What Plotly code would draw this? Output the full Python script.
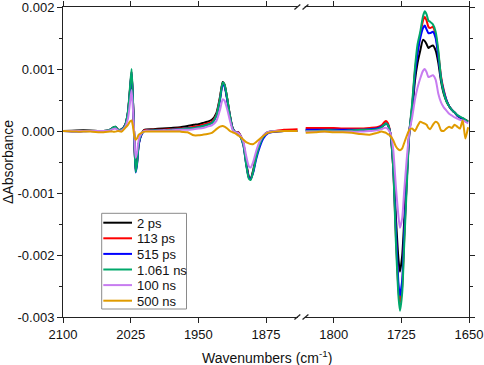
import plotly.graph_objects as go

# ---------------- data ----------------
labels = ["2 ps", "113 ps", "515 ps", "1.061 ns", "100 ns", "500 ns"]
colors = ["#000000", "#FF0000", "#0000FF", "#00A86B", "#C77CF0", "#E09B00"]

wn_left = [2100, 2085, 2070, 2055, 2048, 2045, 2042, 2039, 2035, 2031, 2028, 2026, 2024, 2022.5,
           2021, 2019.5, 2018, 2016, 2013, 2010, 2000, 1990, 1980, 1970, 1962, 1955, 1950, 1945,
           1940, 1935, 1930, 1926, 1923, 1921, 1918, 1915, 1912, 1909, 1906, 1903, 1900, 1897,
           1894, 1892, 1889, 1886, 1882, 1878, 1873, 1865, 1855, 1840]

wn_right = [1831, 1820, 1810, 1800, 1790, 1780, 1770, 1760, 1752, 1747, 1744, 1742, 1740, 1737,
            1734, 1731, 1728, 1726.5, 1724, 1722, 1719, 1716, 1713, 1710, 1707, 1704, 1701, 1699,
            1697, 1695, 1693, 1690, 1687, 1684, 1681, 1678, 1675, 1672, 1669, 1666, 1663, 1660,
            1657, 1654, 1651]

k_left = [0.0, 0.00001, 0.00001, 0.0, 0.00002, 0.00005, 0.00007, 0.00002, 0.00003, 0.0001, 0.0003,
          0.0006, 0.00092, 0.0005, -0.0001, -0.00062, -0.0005, -0.0002, -0.00005, 0.00002, 0.00003,
          0.00004, 0.00005, 0.00006, 0.00008, 0.0001, 0.00011, 0.00013, 0.00015, 0.00018, 0.00029,
          0.00055, 0.00079, 0.00075, 0.00052, 0.00025, 0.00005, -0.00002, -0.00002, -0.00008,
          -0.0002, -0.0005, -0.00074, -0.00077, -0.00062, -0.0004, -0.0002, -0.00008, -0.00002,
          -0.00001, 0.0, 0.0]
r_left = [0.0, 0.0, 0.0, 0.0, 0.00001, 0.00004, 0.00006, 0.00002, 0.00002, 0.0001, 0.0003,
          0.00063, 0.00096, 0.0005, -0.0001, -0.00064, -0.00052, -0.0002, -0.00005, 0.00001, 0.00002,
          0.00002, 0.00003, 0.00004, 0.00005, 0.00007, 0.00008, 0.0001, 0.00012, 0.00015, 0.00026,
          0.00053, 0.00077, 0.00074, 0.00052, 0.00025, 0.00004, -0.00002, -0.00002, -0.00009,
          -0.00022, -0.00052, -0.00075, -0.00078, -0.00064, -0.00042, -0.00022, -0.00009, -0.00002,
          0.0, 0.00002, 0.00003]
b_left = [0.0, -0.00001, 0.0, -0.00001, 0.00001, 0.00004, 0.00006, 0.00002, 0.00002, 0.0001, 0.0003,
          0.00062, 0.00095, 0.0005, -0.0001, -0.00067, -0.00055, -0.00022, -0.00006, 0.0, 0.00001,
          0.00001, 0.00002, 0.00003, 0.00004, 0.00005, 0.00006, 0.00008, 0.0001, 0.00013, 0.00024,
          0.0005, 0.00074, 0.00072, 0.0005, 0.00024, 0.00004, -0.00002, -0.00003, -0.0001,
          -0.00023, -0.00053, -0.00075, -0.00077, -0.00066, -0.00046, -0.00026, -0.00012, -0.00004,
          -0.00001, 0.0, 0.0]
g_left = [0.0, 0.0, 0.0, 0.0, 0.00002, 0.00005, 0.00007, 0.00002, 0.00002, 0.0001, 0.00032,
          0.00066, 0.001, 0.00052, -0.0001, -0.00066, -0.00053, -0.0002, -0.00005, 0.0, 0.00001,
          0.00001, 0.00002, 0.00003, 0.00004, 0.00005, 0.00006, 0.00008, 0.0001, 0.00013, 0.00025,
          0.00052, 0.00078, 0.00075, 0.00053, 0.00025, 0.00004, -0.00002, -0.00003, -0.0001,
          -0.00023, -0.00054, -0.00077, -0.00079, -0.00064, -0.00043, -0.00022, -0.00009, -0.00002,
          0.0, 0.0, 0.0]
v_left = [0.0, 0.0, 0.0, 0.0, 0.00001, 0.00003, 0.00004, 0.00001, 0.00001, 0.00007, 0.0002,
          0.00042, 0.00066, 0.00035, -0.00005, -0.00043, -0.00035, -0.00014, -0.00004, 0.0, 0.0,
          0.00001, 0.00001, 0.00002, 0.00002, 0.00003, 0.00004, 0.00005, 0.00007, 0.00009, 0.00016,
          0.00034, 0.00051, 0.00049, 0.00035, 0.00017, 0.00002, -0.00002, -0.00003, -0.00008,
          -0.00018, -0.0004, -0.00057, -0.00059, -0.00049, -0.00033, -0.00017, -0.00007, -0.00002,
          0.0, 0.0, 0.0]
o_left = [0.0, -0.00001, -0.00001, -0.00002, -0.00001, -0.00001, -0.00001, 0.0, -0.00001, 0.00005,
          0.0001, 0.00015, 0.00017, 0.00008, -0.00008, -0.00014, -0.00012, -0.00006, -0.00003,
          -0.00001, -0.00001, -0.00001, -0.00001, -0.00001, -0.00002, -0.00007, -0.00007, -0.00006,
          -0.00005, -0.00003, 0.00003, 0.00007, 0.00008, 0.00007, 0.00004, 0.0, -0.00002, -0.00004,
          -0.00007, -0.0001, -0.00014, -0.00018, -0.0002, -0.00021, -0.00021, -0.00018, -0.00013,
          -0.00008, -0.00003, -0.00001, 0.0, 0.0]

k_right = [0.00002, 0.00002, 0.00002, 0.00002, 0.00002, 0.00002, 0.00002, 0.00003, 0.00004, 0.00006,
           0.0001, 0.00012, 0.0001, -0.00005, -0.0005, -0.0014, -0.0021, -0.00227, -0.002, -0.0015,
           -0.0007, 0.0, 0.0003, 0.0008, 0.0011, 0.0013, 0.00147, 0.00145, 0.0014, 0.00134, 0.00136,
           0.00138, 0.0013, 0.0011, 0.0008, 0.0006, 0.00048, 0.0004, 0.00034, 0.0003, 0.00025,
           0.00022, 0.0002, 0.00018, 0.00016]
r_right = [0.00005, 0.00005, 0.00005, 0.00005, 0.00004, 0.00004, 0.00004, 0.00005, 0.00006, 0.00009,
           0.00014, 0.00016, 0.00013, -0.00005, -0.0006, -0.0017, -0.0026, -0.00277, -0.0025,
           -0.0018, -0.0008, 0.0, 0.0004, 0.00095, 0.0013, 0.00155, 0.00178, 0.00184, 0.00178,
           0.00168, 0.00166, 0.00168, 0.00155, 0.00125, 0.00088, 0.00066, 0.0005, 0.0004, 0.00034,
           0.0003, 0.00025, 0.00022, 0.0002, 0.00017, 0.00015]
b_right = [0.00002, 0.00002, 0.00002, 0.00002, 0.00002, 0.00002, 0.00002, 0.00003, 0.00004, 0.00007,
           0.0001, 0.00012, 0.0001, -0.00005, -0.00058, -0.0016, -0.0025, -0.00265, -0.0024,
           -0.0017, -0.0008, 0.0, 0.00038, 0.0009, 0.00125, 0.0015, 0.00166, 0.0017, 0.00164,
           0.00158, 0.00158, 0.0016, 0.0015, 0.0012, 0.00085, 0.00064, 0.0005, 0.0004, 0.00034,
           0.0003, 0.00025, 0.00022, 0.0002, 0.00016, 0.00014]
g_right = [0.0, 0.0, 0.00001, 0.00001, 0.0, 0.00001, 0.00002, 0.00002, 0.00003, 0.00006, 0.0001,
           0.00012, 0.0001, -0.00005, -0.0006, -0.0018, -0.0027, -0.0029, -0.0026, -0.0019, -0.0009,
           0.0, 0.00045, 0.001, 0.0014, 0.0016, 0.00185, 0.00193, 0.00188, 0.00178, 0.00176, 0.00172,
           0.0016, 0.0013, 0.00085, 0.00062, 0.00048, 0.0004, 0.00034, 0.0003, 0.00026, 0.00023,
           0.00021, 0.00018, 0.00015]
v_right = [-0.00001, -0.00001, -0.00001, -0.00001, -0.00001, -0.00001, -0.00001, 0.0, 0.00001,
           0.00003, 0.00005, 0.00005, 0.00003, -0.00004, -0.0003, -0.0009, -0.0014, -0.00156,
           -0.0014, -0.001, -0.00045, 0.0, 0.00022, 0.0005, 0.0007, 0.00085, 0.00097, 0.001,
           0.00095, 0.00087, 0.00088, 0.0009, 0.00083, 0.0006, 0.00046, 0.00038, 0.00033, 0.00028,
           0.00025, 0.00022, 0.0002, 0.00018, 0.00017, 0.00015, 0.00012]
o_right = [-0.00003, -0.00002, -0.00001, -0.00002, -0.00002, -0.00003, -0.00005, -0.00006, -0.00003,
           -0.00001, -0.00002, -0.00003, -0.00005, -0.00008, -0.00015, -0.00025, -0.0003, -0.00031,
           -0.00028, -0.0002, -0.00008, 0.00002, 0.00004, 0.0, 0.00008, 0.00015, 0.00013, 0.00012,
           0.0001, 0.00005, 0.00003, 0.0001, 0.00015, 0.00012, 0.00001, 0.0, 0.00004, 0.00007,
           0.00005, 0.0001, 0.00007, 0.00004, 0.00017, -0.00012, 0.00006]

series_left = [k_left, r_left, b_left, g_left, v_left, o_left]
series_right = [k_right, r_right, b_right, g_right, v_right, o_right]

y_ticks = [0.002, 0.001, 0.0, -0.001, -0.002, -0.003]
y_ticktext = ["0.002", "0.001", "0.000", "-0.001", "-0.002", "-0.003"]
x_ticks = [2100, 2025, 1950, 1875, 1800, 1725, 1650]
x_title = "Wavenumbers (cm<sup>-1</sup>)"
y_title = "\u0394Absorbance"

# ---------------- figure ----------------
W, H = 484, 365
ML, MR, MT, MB = 63, 15, 7, 48
PW, PH = W - ML - MR, H - MT - MB

fig = go.Figure()
for lab, col, yl, yr in zip(labels, colors, series_left, series_right):
    fig.add_trace(go.Scatter(
        x=wn_left + [None] + wn_right,
        y=yl + [None] + yr,
        mode="lines", name=lab, connectgaps=False, showlegend=False,
        line=dict(color=col, width=2, shape="spline", smoothing=0.6),
    ))

font_family = "Liberation Sans, Arial, sans-serif"
axis_color = "#222222"
text_color = "#111111"

fig.update_layout(
    width=W, height=H,
    margin=dict(l=ML, r=MR, t=MT, b=MB, autoexpand=False),
    paper_bgcolor="white", plot_bgcolor="white",
    font=dict(family=font_family, size=13, color=text_color),
    showlegend=False,
    xaxis=dict(
        range=[2100, 1650], tickvals=x_ticks, automargin=False, ticklabeloverflow="allow",
        showgrid=False, zeroline=False,
        showline=True, linecolor=axis_color, linewidth=1, mirror="ticks",
        ticks="outside", ticklen=5, tickcolor=axis_color, tickwidth=1,
        tickfont=dict(size=13),
    ),
    yaxis=dict(
        range=[-0.003, 0.002], tickvals=y_ticks, ticktext=y_ticktext, automargin=False,
        ticklabeloverflow="allow",
        showgrid=False, zeroline=False,
        showline=True, linecolor=axis_color, linewidth=1, mirror="ticks",
        ticks="outside", ticklen=5, tickcolor=axis_color, tickwidth=1,
        minor=dict(dtick=0.0005, ticks="outside", ticklen=3, tickcolor=axis_color, showgrid=False),
        tickfont=dict(size=13),
    ),
)

def px_x(p):
    return (p - ML) / PW

def px_y(p):
    return (MT + PH - p) / PH

def xp(wn):
    return (2100 - wn) / 450.0

annotations = [
    dict(text=x_title, xref="paper", yref="paper", x=px_x(267), y=px_y(357),
         xanchor="center", yanchor="middle", showarrow=False, font=dict(size=14)),
    dict(text=y_title, xref="paper", yref="paper", x=px_x(8), y=px_y(162),
         xanchor="center", yanchor="middle", showarrow=False, textangle=-90,
         font=dict(size=14)),
]

shapes = []
# axis-break marks on top and bottom axis lines
dy = 0.008
for yb in (0.0, 1.0):
    shapes.append(dict(type="rect", xref="paper", yref="paper",
                       x0=xp(1839.5), x1=xp(1832.0), y0=yb - 0.006, y1=yb + 0.006,
                       fillcolor="white", line=dict(width=0), layer="above"))
    for x0w, x1w in ((1843.5, 1837.0), (1834.5, 1828.0)):
        shapes.append(dict(type="line", xref="paper", yref="paper",
                           x0=xp(x0w), x1=xp(x1w), y0=yb - dy, y1=yb + dy,
                           line=dict(color=axis_color, width=1.2), layer="above"))

# legend box drawn by hand (tight row spacing like the reference)
box_l, box_r, box_t, box_b = 101.7, 186.5, 213.3, 309.0
shapes.append(dict(type="rect", xref="paper", yref="paper",
                   x0=px_x(box_l), x1=px_x(box_r), y0=px_y(box_b), y1=px_y(box_t),
                   fillcolor="white", line=dict(color="#8a8a8a", width=1), layer="above"))
row0, row_step = 222.7, 15.6
for i, (lab, col) in enumerate(zip(labels, colors)):
    yy = row0 + i * row_step
    shapes.append(dict(type="line", xref="paper", yref="paper",
                       x0=px_x(103.3), x1=px_x(132.0), y0=px_y(yy), y1=px_y(yy),
                       line=dict(color=col, width=2), layer="above"))
    annotations.append(dict(text=lab, xref="paper", yref="paper", x=px_x(134.5), y=px_y(yy + 0.5),
                            xanchor="left", yanchor="middle", showarrow=False,
                            font=dict(size=13, color=text_color)))

fig.update_layout(shapes=shapes, annotations=annotations)

fig.write_html("out.html", config={"displayModeBar": False},
               post_script="document.body.style.margin='0';")
